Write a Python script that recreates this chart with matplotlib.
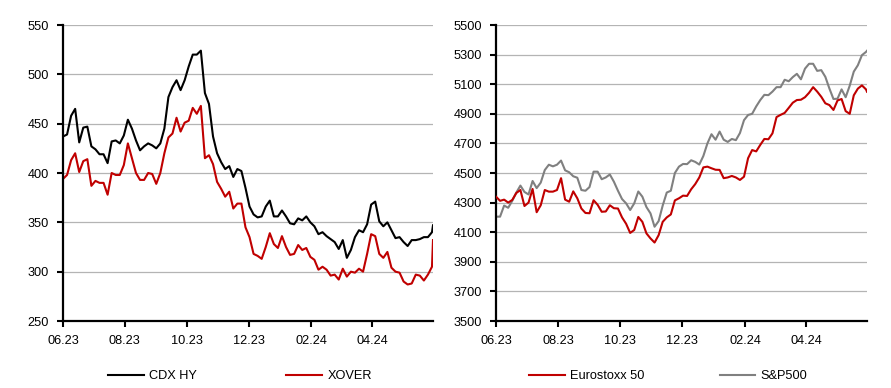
import matplotlib
matplotlib.use("Agg")
import matplotlib.pyplot as plt
import matplotlib.dates as mdates
import numpy as np
import pandas as pd

plt.rcParams['font.family'] = ['Liberation Sans', 'DejaVu Sans']

start = pd.Timestamp('2023-06-01')
end = pd.Timestamp('2024-05-31')

# day offsets from 1 June 2023 (every 4 days) and readings
days = list(range(0, 365, 4)) + [365]

cdx_hy = [437, 439, 458, 465, 431, 446, 447, 427, 424, 419, 419, 410, 432, 433, 430, 438,
          454, 445, 433, 423, 427, 430, 428, 425, 430, 445, 477, 487, 494, 484, 494, 508,
          520, 520, 524, 481, 470, 437, 420, 411, 404, 407, 396, 404, 402, 385, 366, 358,
          355, 356, 366, 372, 356, 356, 362, 356, 349, 348, 354, 352, 356, 350, 346, 338,
          340, 336, 333, 330, 323, 332, 314, 322, 335, 342, 340, 348, 368, 371, 351, 346,
          350, 342, 334, 335, 330, 326, 332, 332, 333, 335, 335, 340, 347]

xover = [394, 398, 413, 420, 401, 412, 414, 387, 392, 390, 390, 378, 400, 398, 398, 408,
         430, 415, 400, 393, 393, 400, 399, 389, 400, 420, 436, 440, 456, 442, 451, 453,
         466, 460, 468, 415, 418, 409, 391, 384, 376, 381, 364, 369, 369, 345, 335, 318,
         316, 313, 325, 339, 328, 324, 336, 325, 317, 318, 327, 322, 324, 315, 312, 302,
         305, 302, 296, 297, 292, 303, 295, 300, 299, 303, 300, 318, 338, 336, 318, 314,
         320, 304, 300, 299, 290, 287, 288, 297, 296, 291, 297, 305, 332]

eurostoxx = [4340, 4312, 4320, 4300, 4318, 4365, 4385, 4277, 4300, 4392, 4235, 4282, 4385, 4374,
             4374, 4385, 4465, 4320, 4306, 4376, 4329, 4260, 4230, 4228, 4316, 4285, 4238, 4240,
             4282, 4262, 4260, 4200, 4157, 4095, 4115, 4203, 4170, 4092, 4058, 4030, 4080, 4170,
             4200, 4220, 4315, 4329, 4347, 4345, 4390, 4425, 4470, 4538, 4543, 4532, 4522, 4521,
             4465, 4470, 4480, 4470, 4453, 4475, 4600, 4655, 4646, 4690, 4730, 4728, 4768, 4878,
             4893, 4906, 4940, 4975, 4993, 4995, 5012, 5042, 5080, 5050, 5015, 4971, 4959, 4926,
             4990, 5000, 4918, 4900, 5025, 5070, 5092, 5065, 5049]

sp500 = [4205, 4205, 4280, 4265, 4312, 4368, 4415, 4372, 4355, 4446, 4398, 4435, 4520, 4556,
         4545, 4556, 4584, 4518, 4505, 4478, 4468, 4385, 4380, 4405, 4509, 4509, 4458, 4470,
         4490, 4441, 4380, 4324, 4295, 4250, 4295, 4375, 4340, 4270, 4227, 4137, 4175, 4280,
         4368, 4380, 4500, 4543, 4561, 4560, 4586, 4575, 4557, 4615, 4700, 4762, 4725, 4780,
         4725, 4710, 4730, 4722, 4770, 4857, 4892, 4900, 4950, 4993, 5028, 5026, 5050, 5080,
         5080, 5130, 5120, 5148, 5170, 5133, 5205, 5238, 5238, 5190, 5195, 5150, 5071, 5000,
         5002, 5065, 5012, 5090, 5185, 5228, 5296, 5318, 5326]

tick_dates = ['2023-06-01', '2023-08-01', '2023-10-01', '2023-12-01', '2024-02-01', '2024-04-01']
tick_labels = ['06.23', '08.23', '10.23', '12.23', '02.24', '04.24']

dates = [start + pd.Timedelta(days=d) for d in days]

RED = '#C00000'
GREY = '#808080'
GRID = '#b4b4b4'
FS = 9.2

fig = plt.figure(figsize=(8.91, 3.88), dpi=100)
axL = fig.add_axes([63/891, 1-321/388, 370/891, 296/388])
axR = fig.add_axes([496/891, 1-321/388, 371/891, 296/388])

def style(ax, ylim, yticks):
    ax.set_xlim(start, end)
    ax.set_ylim(*ylim)
    ax.set_yticks(yticks)
    ax.set_xticks(pd.to_datetime(tick_dates))
    ax.set_xticklabels(tick_labels)
    for s in ['top', 'right']:
        ax.spines[s].set_visible(False)
    for s in ['left', 'bottom']:
        ax.spines[s].set_linewidth(1.6)
        ax.spines[s].set_color('black')
    ax.grid(axis='y', color=GRID, linewidth=0.9)
    ax.set_axisbelow(True)
    ax.tick_params(axis='both', direction='out', length=4, width=1.5, labelsize=FS, colors='black')
    ax.tick_params(axis='x', pad=6)
    ax.tick_params(axis='y', pad=6)

axL.plot(dates, cdx_hy, color='black', lw=1.5, label='CDX HY', zorder=3)
axL.plot(dates, xover, color=RED, lw=1.5, label='XOVER', zorder=2)
style(axL, (250, 550), np.arange(250, 551, 50))

axR.plot(dates, eurostoxx, color=RED, lw=1.5, label='Eurostoxx 50', zorder=3)
axR.plot(dates, sp500, color=GREY, lw=1.5, label='S&P500', zorder=2)
style(axR, (3500, 5500), np.arange(3500, 5501, 200))

legL = fig.legend(*axL.get_legend_handles_labels(), loc='center', bbox_to_anchor=(240/891, 1-376/388),
                  ncol=2, frameon=False, fontsize=FS, handlelength=2.8, handletextpad=0.4,
                  columnspacing=7.0)
legR = fig.legend(*axR.get_legend_handles_labels(), loc='center', bbox_to_anchor=(668/891, 1-376/388),
                  ncol=2, frameon=False, fontsize=FS, handlelength=2.8, handletextpad=0.4,
                  columnspacing=5.9)

fig.savefig('out.png', dpi=100)
